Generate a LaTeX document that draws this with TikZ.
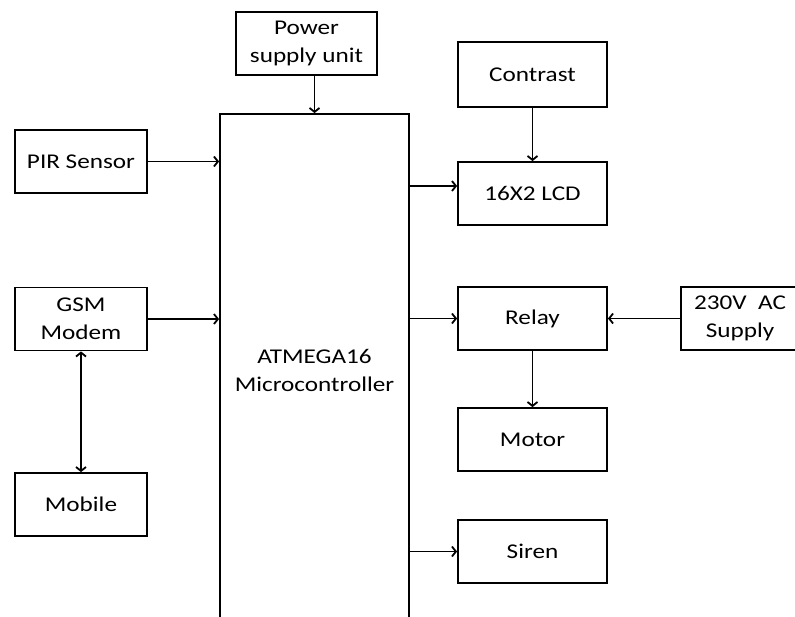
\documentclass[tikz,border=0pt]{standalone}
\usepackage{fontspec}
\setmainfont{Carlito}[FakeStretch=1.2]
\usetikzlibrary{positioning,arrows.meta,calc}

\begin{document}
\begin{tikzpicture}[x=1pt,y=-1pt,
      sb/.tip={Straight Barb[length=4pt,width=10pt]},
      blk/.style={draw,line width=1.8pt,minimum width=149pt,minimum height=63pt,
        inner sep=0pt,align=center,font=\fontsize{21}{28}\selectfont},
      sblk/.style={blk,minimum width=132pt},
      link/.style={-sb,line width=1.8pt},
      dlink/.style={sb-sb,line width=1.8pt}]

    \useasboundingbox (0,0) rectangle (795,616);
    \clip (0,0) rectangle (795,616);

    \node[blk,minimum width=141pt] (psu) at (306.5,43.5) {Power\\supply unit};
    \node[blk,minimum width=189pt,minimum height=512pt] (mcu) at (314.5,370)
      {ATMEGA16\\Microcontroller};

    \node[sblk] (pir) at (81,161.5) {PIR Sensor};
    \node[sblk] (gsm) at (81,319) {GSM\\Modem};
    \node[sblk] (mob) at (81,504.5) {Mobile};

    \node[blk,minimum height=65pt] (con) at (532.5,74.5) {Contrast};
    \node[blk] (lcd) at (532.5,193.5) {16X2 LCD};
    \node[blk] (rly) at (532.5,318.5) {Relay};
    \node[blk] (mot) at (532.5,439.5) {Motor};
    \node[blk] (sir) at (532.5,551.5) {Siren};
    \node[blk,minimum width=118pt] (ac) at (740,318.5) {230V\ \ AC\\Supply};

    \draw[link] (psu.south -| mcu.north) -- (mcu.north);
    \draw[link] (pir.east) -- (pir.east -| mcu.west);
    \draw[link] (gsm.east) -- (gsm.east -| mcu.west);
    \draw[dlink] (gsm.south) -- (mob.north);

    \draw[link] (con) -- (lcd);
    \draw[link] ([yshift=7.5pt]lcd.west -| mcu.east) -- ([yshift=7.5pt]lcd.west);
    \draw[link] (rly.west -| mcu.east) -- (rly.west);
    \draw[link] (ac) -- (rly);
    \draw[link] (rly) -- (mot);
    \draw[link] (sir.west -| mcu.east) -- (sir.west);
  \end{tikzpicture}
\end{document}
